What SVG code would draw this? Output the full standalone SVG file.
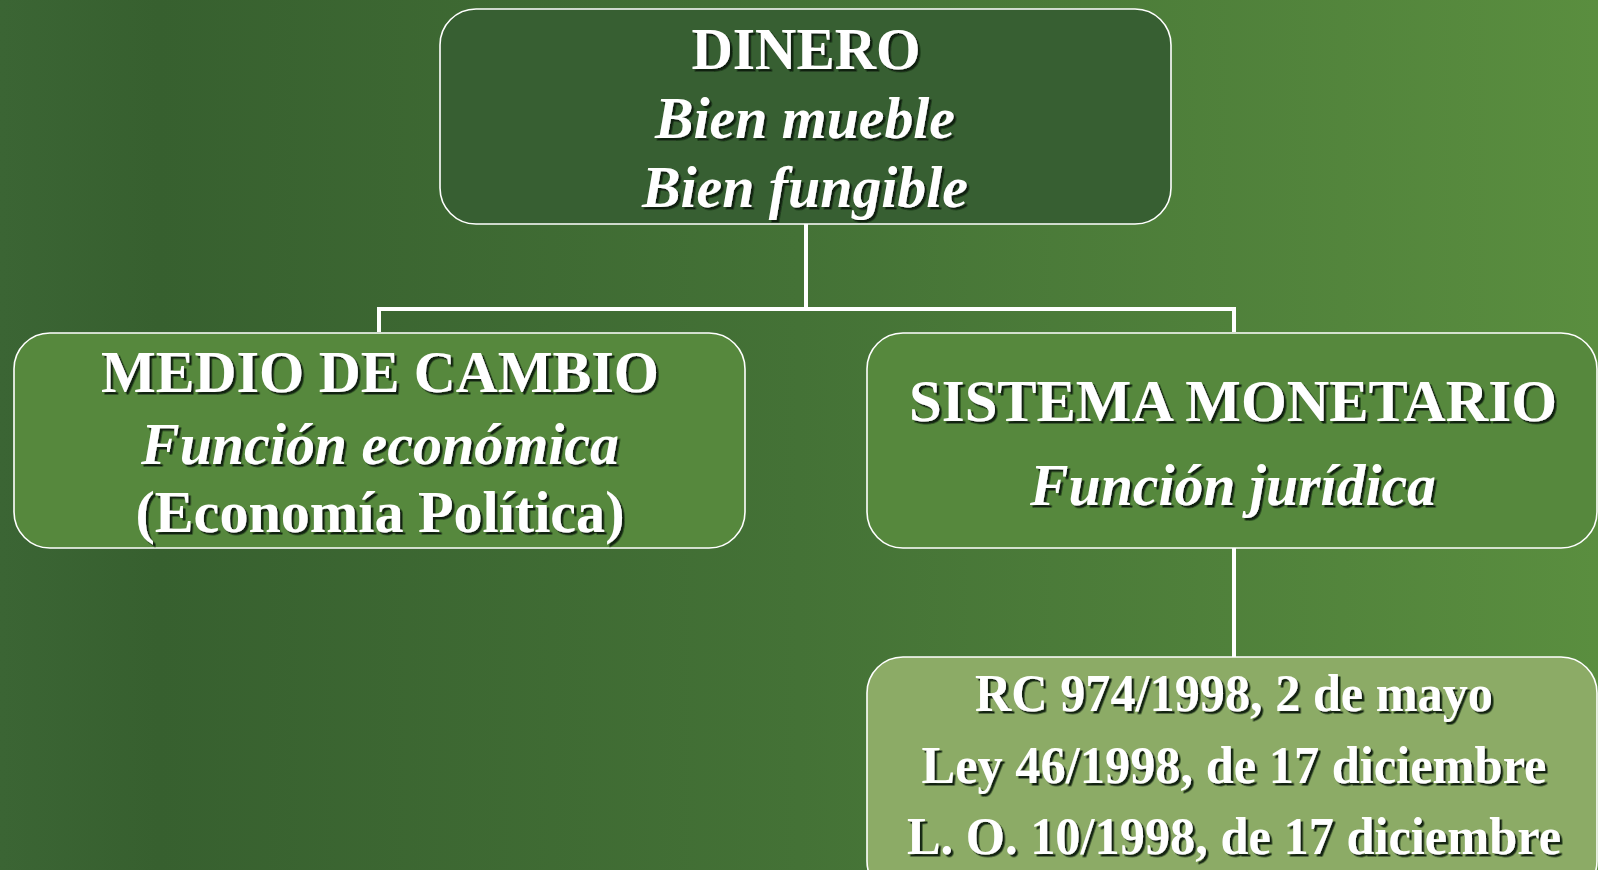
<svg xmlns="http://www.w3.org/2000/svg" width="1598" height="870" viewBox="0 0 1598 870">
<defs>
<linearGradient id="bg" x1="0" y1="0" x2="1" y2="0">
<stop offset="0" stop-color="#3b6534"/>
<stop offset="0.1" stop-color="#37602f"/>
<stop offset="0.5" stop-color="#447236"/>
<stop offset="1" stop-color="#5a8e3f"/>
</linearGradient>
<filter id="sh" x="-5%" y="-20%" width="110%" height="140%">
<feDropShadow dx="2.5" dy="2.5" stdDeviation="0.3" flood-color="#0d1a0a" flood-opacity="0.95"/>
</filter>
<style>
.box{stroke:#ffffff;stroke-width:1.6}
.t{font-family:"Liberation Serif","Times New Roman",serif;font-weight:bold;fill:#ffffff;text-anchor:middle;filter:url(#sh)}
.big{font-size:60px}
.sm{font-size:53px}
.it{font-style:italic}
.con{stroke:#ffffff;stroke-width:4;fill:none}
</style>
</defs>
<rect x="0" y="0" width="1598" height="870" fill="url(#bg)"/>
<g id="connectors">
<path class="con" d="M806 224 V309 M379 309 H1234 M379 307 V332 M1234 307 V332 M1234 548 V657"/>
</g>
<g id="dinero">
<rect class="box" x="440" y="9" width="731" height="215" rx="36" fill="#375f32"/>
<text class="t big" x="806" y="69" textLength="229" lengthAdjust="spacingAndGlyphs">DINERO</text>
<text class="t big it" x="805" y="138" textLength="300" lengthAdjust="spacingAndGlyphs">Bien mueble</text>
<text class="t big it" x="805" y="207" textLength="326" lengthAdjust="spacingAndGlyphs">Bien fungible</text>
</g>
<g id="medio">
<rect class="box" x="14" y="333" width="731" height="215" rx="36" fill="#56883d"/>
<text class="t big" x="380" y="392" textLength="558" lengthAdjust="spacingAndGlyphs">MEDIO DE CAMBIO</text>
<text class="t big it" x="380" y="464" textLength="478" lengthAdjust="spacingAndGlyphs">Función económica</text>
<text class="t big" x="380" y="532" textLength="489" lengthAdjust="spacingAndGlyphs">(Economía Política)</text>
</g>
<g id="sistema">
<rect class="box" x="867" y="333" width="730" height="215" rx="36" fill="#56883d"/>
<text class="t big" x="1233" y="421" textLength="648" lengthAdjust="spacingAndGlyphs">SISTEMA MONETARIO</text>
<text class="t big it" x="1233" y="505" textLength="406" lengthAdjust="spacingAndGlyphs">Función jurídica</text>
</g>
<g id="leyes">
<rect class="box" x="867" y="657" width="730" height="240" rx="36" fill="#8cab66"/>
<text class="t sm" x="1234" y="711" textLength="518" lengthAdjust="spacingAndGlyphs">RC 974/1998, 2 de mayo</text>
<text class="t sm" x="1234" y="783" textLength="625" lengthAdjust="spacingAndGlyphs">Ley 46/1998, de 17 diciembre</text>
<text class="t sm" x="1234" y="854" textLength="654" lengthAdjust="spacingAndGlyphs">L. O. 10/1998, de 17 diciembre</text>
</g>
</svg>
